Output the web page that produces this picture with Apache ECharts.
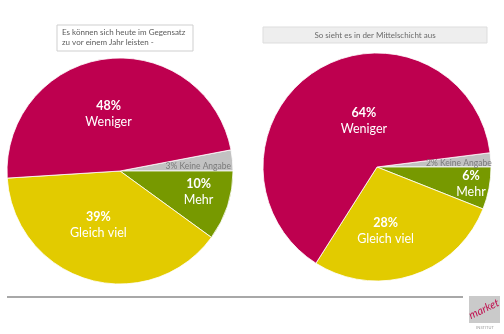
<!DOCTYPE html>
<html>
<head>
<meta charset="utf-8">
<script src="https://cdn.jsdelivr.net/npm/echarts@6/dist/echarts.min.js"></script>
<style>
  html, body { margin: 0; padding: 0; background: #fff; }
  #chart { width: 504px; height: 334px; }
</style>
</head>
<body>
<div id="chart"></div>
<script>
// Answer categories, in drawing order (clockwise from the grey slice)
const categories = ['Keine Angabe', 'Mehr', 'Gleich viel', 'Weniger'];
// Shares in percent: overall vs. middle class
const valuesOverall = [3, 10, 39, 48];
const valuesMiddle = [2, 6, 28, 64];
const headingOverall = ['Es können sich heute im Gegensatz', 'zu vor einem Jahr leisten -'];
const headingMiddle = 'So sieht es in der Mittelschicht aus';

const sliceColors = {
  'Keine Angabe': '#c2c2c2',
  'Mehr': '#779900',
  'Gleich viel': '#e2cb00',
  'Weniger': '#be004f'
};

const FONT = 'Lato, "Open Sans", sans-serif';

// label nudges per slice (dx, dy) relative to the default inside position
const nudgeOverall = [[19, 1], [22, 3], [-5, -3], [-4, 2]];
const nudgeMiddle = [[22, 0], [35, 6], [-10, 7], [19, 5]];

function pieData(values) {
  return categories.map((name, i) => {
    const item = {
      name: name,
      value: values[i],
      itemStyle: { color: sliceColors[name] }
    };
    if (name === 'Keine Angabe') {
      item.label = { formatter: '{k|{c}% {b}}' };
    }
    return item;
  });
}

function pieSeries(values, center, radius, startAngle, nudge) {
  return {
    type: 'pie',
    center: center,
    radius: radius,
    startAngle: startAngle,
    clockwise: true,
    avoidLabelOverlap: false,
    silent: true,
    emphasis: { disabled: true },
    itemStyle: { borderColor: '#ffffff', borderWidth: 0.8 },
    label: {
      show: true,
      position: 'inside',
      formatter: '{p|{c}%}\n{n|{b}}',
      rich: {
        p: { fontFamily: FONT, fontWeight: 'bold', fontSize: 12.5, color: '#ffffff', lineHeight: 16, align: 'center' },
        n: { fontFamily: FONT, fontSize: 12.5, color: '#ffffff', lineHeight: 16, align: 'center' },
        k: { fontFamily: FONT, fontSize: 8.5, color: '#7a7a7a' }
      }
    },
    labelLine: { show: false },
    labelLayout: function (params) {
      const n = nudge[params.dataIndex];
      return { dx: n[0], dy: n[1] };
    },
    data: pieData(values)
  };
}

const chart = echarts.init(document.getElementById('chart'), null, { renderer: 'canvas' });

chart.setOption({
  animation: false,
  backgroundColor: '#ffffff',
  series: [
    pieSeries(valuesOverall, [120, 171], 113, valuesOverall[0] * 3.6, nudgeOverall),
    pieSeries(valuesMiddle, [377, 167], 114, 7.2, nudgeMiddle)
  ],
  graphic: [
    // heading box, left
    {
      type: 'rect', shape: { x: 57, y: 25, width: 136, height: 26 },
      style: { fill: '#ffffff', stroke: '#cfcfcf', lineWidth: 1 }, silent: true
    },
    {
      type: 'text', left: 62, top: 28, silent: true,
      style: { text: headingOverall.join('\n'), fontFamily: FONT, fontSize: 8, lineHeight: 9.5, fill: '#5a5a5a' }
    },
    // heading box, right
    {
      type: 'rect', shape: { x: 263, y: 27, width: 224, height: 16 },
      style: { fill: '#eeeeee', stroke: '#dddddd', lineWidth: 1 }, silent: true
    },
    {
      type: 'text', x: 375, y: 35, silent: true,
      style: { text: headingMiddle, fontFamily: FONT, fontSize: 8, fill: '#6a6a6a', align: 'center', verticalAlign: 'middle' }
    },
    // footer rule
    {
      type: 'line', shape: { x1: 7, y1: 297, x2: 463, y2: 297 },
      style: { stroke: '#a8a8a8', lineWidth: 2 }, silent: true
    },
    // institute logo
    {
      type: 'rect', shape: { x: 469, y: 296, width: 31, height: 27 },
      style: { fill: '#cacaca' }, silent: true
    },
    {
      type: 'text', x: 484, y: 309, rotation: 0.45, silent: true,
      style: { text: 'market', fontFamily: FONT, fontStyle: 'italic', fontSize: 11, fill: '#c0104f', align: 'center', verticalAlign: 'middle' }
    },
    {
      type: 'text', x: 485, y: 328, silent: true,
      style: { text: 'INSTITUT', fontFamily: FONT, fontSize: 4, fill: '#9a9a9a', align: 'center', verticalAlign: 'middle' }
    }
  ]
});
</script>
</body>
</html>
